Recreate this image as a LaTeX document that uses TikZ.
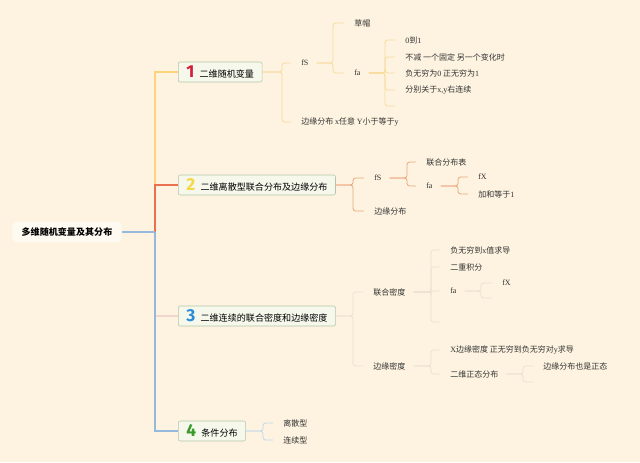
\documentclass[tikz,border=0pt]{standalone}
\usepackage{fontspec}
\setmainfont{Noto Sans CJK SC}
\newfontfamily\enf{Liberation Serif}
\newfontfamily\numf{Fira Sans}
\usepackage{xcolor}
\usetikzlibrary{positioning}

\definecolor{bgcol}{HTML}{FDF3E0}
\definecolor{txtcol}{HTML}{333333}
\definecolor{yellowline}{HTML}{FDD47A}
\definecolor{orangeline}{HTML}{E9714F}
\definecolor{pinkline}{HTML}{F2D5CC}
\definecolor{blueline}{HTML}{94B9DD}
\definecolor{twigone}{HTML}{F9DB9A}
\definecolor{twigtwo}{HTML}{EBA77E}
\definecolor{twigthree}{HTML}{EDE0D2}
\definecolor{twigfour}{HTML}{C5D8EA}
\definecolor{boxfill}{HTML}{F6F8EC}
\definecolor{boxline}{HTML}{B3C6A6}
\definecolor{rootfill}{HTML}{FFFAF1}
\definecolor{numred}{HTML}{D21F3C}
\definecolor{numyellow}{HTML}{F4D84A}
\definecolor{numblue}{HTML}{2A8ED8}
\definecolor{numgreen}{HTML}{3A9A2C}

\newcommand{\en}[1]{{\enf #1}}
\newcommand{\nr}[2]{{\numf\bfseries\fontsize{13}{13}\selectfont\color{#2}#1}}

\begin{document}
\begin{tikzpicture}[x=0.75pt, y=-0.75pt,
			root/.style={fill=rootfill, rounded corners=3pt, minimum height=15pt, inner xsep=7pt, font=\fontsize{6.8}{7}\selectfont\bfseries, text=black},
			topic/.style={draw=boxline, fill=boxfill, rounded corners=1.5pt, minimum height=15pt, inner xsep=6pt, inner ysep=0pt, anchor=west, font=\fontsize{6.8}{7}\selectfont, text=black},
			leaf/.style={anchor=west, inner sep=1.5pt, font=\fontsize{6}{6}\selectfont, text=txtcol},
			trunk/.style={line width=2.2pt},
			twig/.style={line width=0.6pt, rounded corners=2pt, shorten >=6pt},
			twigt/.style={twig, shorten <=4.5pt}
			]
			\fill [bgcol] (0,0) rectangle (640,462);
			\useasboundingbox (0,0) rectangle (640,462);
			
			\node [root](root) at (67,232) {多维随机变量及其分布};
			\coordinate (hub) at (155,232);
			
			\node [topic](b1) at (178,72) {\nr{1}{numred}\hspace{4pt}二维随机变量};
			\node [topic](b2) at (178,185) {\nr{2}{numyellow}\hspace{4pt}二维离散型联合分布及边缘分布};
			\node [topic](b3) at (178,316) {\nr{3}{numblue}\hspace{4pt}二维连续的联合密度和边缘密度};
			\node [topic](b4) at (178,431) {\nr{4}{numgreen}\hspace{4pt}条件分布};
			
			\draw [trunk, yellowline] (hub) |- (b1);
			\draw [trunk, orangeline] (hub) |- (b2);
			\draw [trunk, pinkline] (hub) |- (b3);
			\draw [trunk, blueline] (hub) |- (b4);
			\draw [trunk, blueline] (root) -- (hub);
			
			% 1
			\node [leaf](fs1) at (299,63) {\en{fS}};
			\node [leaf](mb1) at (299,122) {边缘分布 \en{x}任意 \en{Y}小于等于\en{y}};
			\node [leaf](cm) at (352,23) {草帽};
			\node [leaf](fa1) at (352,73) {\en{fa}};
			\node [leaf](p1) at (403,40) {\en{0}到\en{1}};
			\node [leaf](p2) at (403,57) {不减 一个固定 另一个变化时};
			\node [leaf](p3) at (403,73) {负无穷为\en{0} 正无穷为\en{1}};
			\node [leaf](p4) at (403,90) {分别关于\en{x,y}右连续};
			\coordinate (p5) at (403,106);
			
			\coordinate (b1j) at (282,72);
			\coordinate (fs1j) at (333,63);
			\coordinate (fa1j) at (385,73);
			\foreach \c in {fs1,mb1} \draw [twig, twigone] (b1) -- (b1j) |- (\c);
			\foreach \c in {cm,fa1} \draw [twigt, twigone] (fs1) -- (fs1j) |- (\c);
			\foreach \c in {p1,p2,p3,p4,p5} \draw [twigt, twigone] (fa1) -- (fa1j) |- (\c);
			
			% 2
			\node [leaf](fs2) at (372,178) {\en{fS}};
			\node [leaf](mb2) at (372,211) {边缘分布};
			\node [leaf](lb) at (424,162) {联合分布表};
			\node [leaf](fa2) at (424,186) {\en{fa}};
			\node [leaf](fx2) at (476,177) {\en{fX}};
			\node [leaf](sum) at (476,194) {加和等于\en{1}};
			
			\coordinate (b2j) at (353,185);
			\coordinate (fs2j) at (407,178);
			\coordinate (fa2j) at (458,186);
			\foreach \c in {fs2,mb2} \draw [twig, twigtwo] (b2) -- (b2j) |- (\c);
			\foreach \c in {lb,fa2} \draw [twigt, twigtwo] (fs2) -- (fs2j) |- (\c);
			\foreach \c in {fx2,sum} \draw [twigt, twigtwo] (fa2) -- (fa2j) |- (\c);
			
			% 3
			\node [leaf](ld) at (371,292) {联合密度};
			\node [leaf](md) at (371,366) {边缘密度};
			\node [leaf](dv) at (448,250) {负无穷到\en{x}值求导};
			\node [leaf](ej) at (448,267) {二重积分};
			\node [leaf](fa3) at (448,291) {\en{fa}};
			\coordinate (e3) at (448,322);
			\node [leaf](fx3) at (500,283) {\en{fX}};
			\coordinate (f3) at (500,298);
			\node [leaf](xm) at (448,350) {\en{X}边缘密度 正无穷到负无穷对\en{y}求导};
			\node [leaf](zt) at (448,374) {二维正态分布};
			\node [leaf](bz) at (541,366) {边缘分布也是正态};
			\coordinate (z2) at (541,382);
			
			\coordinate (b3j) at (353,316);
			\coordinate (ldj) at (431,292);
			\coordinate (fa3j) at (481,291);
			\coordinate (mdj) at (431,366);
			\coordinate (ztj) at (523,374);
			\foreach \c in {ld,md} \draw [twig, twigthree] (b3) -- (b3j) |- (\c);
			\foreach \c in {dv,ej,fa3,e3} \draw [twigt, twigthree] (ld) -- (ldj) |- (\c);
			\foreach \c in {fx3,f3} \draw [twigt, twigthree] (fa3) -- (fa3j) |- (\c);
			\foreach \c in {xm,zt} \draw [twigt, twigthree] (md) -- (mdj) |- (\c);
			\foreach \c in {bz,z2} \draw [twigt, twigthree] (zt) -- (ztj) |- (\c);
			
			% 4
			\node [leaf](ls) at (281,423) {离散型};
			\node [leaf](lx) at (281,440) {连续型};
			
			\coordinate (b4j) at (263,431);
			\foreach \c in {ls,lx} \draw [twig, twigfour] (b4) -- (b4j) |- (\c);
			
\end{tikzpicture}
\end{document}
